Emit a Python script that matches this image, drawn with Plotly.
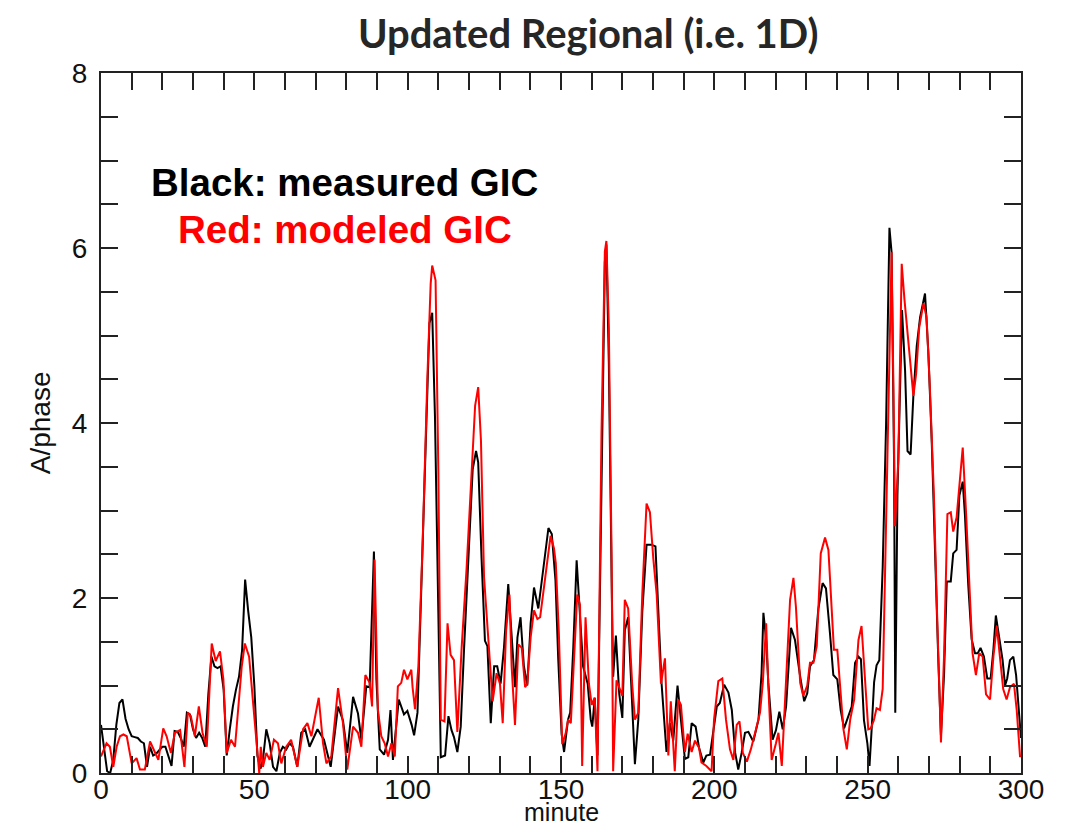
import plotly.graph_objects as go

# measured GIC (black)
meas_t = [0, 1, 2, 3, 4, 5, 6, 7, 8, 9, 10, 11, 12, 13, 14, 15, 16, 17, 18, 19, 20, 21, 22, 23, 24, 25, 26, 27, 28, 29,
          30, 31, 32, 33, 34, 35, 36, 37, 38, 39, 40, 41, 42, 43, 44, 45, 46, 47, 48, 49, 50, 51, 52,
          52.8, 53.9, 55, 56.1, 57.2, 58.3, 59.3, 60.4, 61.5, 62.6, 64, 65.3, 66.6, 68, 69.5, 70.6, 72.7, 74.9,
          77.3, 78.9, 80.3, 82.2, 83.8, 84.9, 86.5, 87.6, 89, 89.8, 90.9, 92.3, 93.6, 94.4, 95.2, 97.1, 98.8,
          99.9, 101.3, 102.1, 103.2, 104.6, 106, 107.1, 108, 108.9, 110, 110.8, 112.2, 113.3, 114.3, 115.1,
          116.2, 117.3, 118.4, 119.8, 121.2, 122.3, 123, 124.1, 125.2, 126, 127.1, 128.2, 129.2, 130.3, 131.4,
          132.8, 134.2, 135, 135.8, 136.8, 137.9, 139, 140.1, 141.2, 142.6, 144, 145.9, 147, 147.7, 148.2,
          149.1, 150.2, 151, 152.3, 153, 154, 155.1, 156.2, 157.2, 158.7, 159.7, 160.2, 161, 161.9, 163.2,
          164.3, 164.8, 165.6, 166.5, 167, 167.9, 169, 170, 170.8, 171.9, 173, 174.1, 175.2, 176.5, 177.9,
          179.5, 180.8, 181.7, 182.8, 184.4, 185.5, 186.6, 188, 189.1, 190.4, 191.5, 192.6, 193.9, 195, 196.4,
          197.4, 198.6, 200.8, 201.8, 203.2, 204.6, 205.7, 206.8, 207.8, 208.9, 210, 211.1, 212.7, 214.4,
          215.4, 216, 216.9, 217.6, 219, 220.1, 221.2, 222.3, 223.4, 225, 226.3, 228, 229.3, 230.3, 231.2,
          232.5, 233.9, 235.3, 236.4, 237.7, 238.8, 240.1, 241.2, 242.3, 243.7, 244.8, 245.9, 247, 247.8,
          248.8, 249.9, 250.6, 251.3, 252.1, 252.9, 253.8, 254.9, 256, 257.1, 257.8, 258.6, 259, 259.7, 260.5,
          261.2, 262.2, 263, 264, 264.9, 266, 267.1, 268.7, 269.8, 270.9, 272, 273, 273.9, 274.9, 275.8,
          277.1, 277.9, 279, 279.9, 281, 281.7, 282.8, 283.9, 285, 285.9, 286.8, 287.9, 289, 290.1, 291,
          291.8, 292.9, 294, 294.8, 295.5, 296.4, 297.5, 298.4, 299.5, 300]
meas_v = [0.55, 0.3, 0.02, 0.0, 0.15, 0.55, 0.8, 0.84, 0.62, 0.5, 0.42, 0.41, 0.4, 0.36, 0.34, 0.07, 0.3, 0.2, 0.22, 0.26,
          0.3, 0.3, 0.2, 0.08, 0.48, 0.47, 0.4, 0.3, 0.69, 0.67, 0.5, 0.4, 0.46, 0.4, 0.3, 0.9, 1.33, 1.22, 1.2, 1.22,
          0.95, 0.2, 0.5, 0.76, 0.95, 1.1, 1.4, 2.21, 1.85, 1.55, 1.0, 0.2, 0.05,
          0.15, 0.5, 0.34, 0.07, 0.02, 0.23, 0.3, 0.27, 0.34, 0.3, 0.07, 0.46, 0.5, 0.3, 0.42, 0.5, 0.38, 0.07,
          0.76, 0.6, 0.23, 0.87, 0.68, 0.38, 0.99, 0.98, 2.53, 1.07, 0.27, 0.21, 0.38, 0.72, 0.15, 0.84, 0.67,
          0.71, 0.55, 0.43, 0.69, 2.24, 3.88, 5.14, 5.26, 4.08, 1.84, 0.18, 0.2, 0.65, 0.49, 0.41,
          0.24, 0.53, 1.43, 2.45, 3.47, 3.68, 3.55, 2.45, 1.51, 1.45, 0.57, 1.22, 1.22, 1.02, 1.43,
          2.16, 1.43, 0.98, 1.55, 1.78, 1.22, 1.0, 1.71, 2.12, 1.88, 2.29, 2.8, 2.73, 2.45, 2.2,
          1.3, 0.45, 0.24, 0.61, 0.69, 1.43, 2.43, 1.84, 1.22, 1.02, 0.61, 0.53, 0.86, 0.2, 3.47,
          5.84, 6.04, 4.69, 2.24, 1.1, 1.57, 0.9, 0.63, 1.63, 1.78, 1.02, 0.1, 0.61, 1.84, 2.61,
          2.61, 2.59, 1.84, 1.02, 0.24, 0.57, 0.37, 1.0, 0.61, 0.16, 0.18, 0.57, 0.53, 0.29, 0.12,
          0.2, 0.21, 0.76, 0.8, 1.01, 0.92, 0.72, 0.23, 0.04, 0.23, 0.46, 0.47, 0.36, 0.61,
          1.14, 1.83, 1.52, 1.03, 0.38, 0.49, 0.7, 0.5, 0.76, 1.66, 1.52, 1.1, 0.82, 0.91, 1.22,
          1.29, 1.87, 2.17, 2.11, 1.6, 1.12, 1.07, 0.72, 0.51, 0.65, 0.76, 1.26, 1.33, 1.3,
          0.6, 0.34, 0.08, 0.5, 1.04, 1.23, 1.29, 2.35, 3.98, 6.23, 5.95, 3.58, 0.69, 3.17, 4.39,
          5.29, 4.6, 3.68, 3.64, 4.31, 4.88, 5.21, 5.48, 4.8, 3.78, 2.35, 1.33, 0.43, 1.12, 2.19,
          2.19, 2.51, 2.55, 3.17, 3.33, 2.96, 2.15, 1.53, 1.37, 1.37, 1.43, 1.33, 1.08, 1.08, 1.41,
          1.8, 1.53, 1.29, 1.0, 1.08, 1.29, 1.33, 1.12, 0.63, 0.4]

# modeled GIC (red)
model_t = [0, 0.8, 1.8, 2.9, 4, 5.1, 6.2, 7.3, 8.4, 10, 11.6, 12.7, 14.3, 16, 17.6, 18.7, 20.3, 21.4, 22.8, 24.1,
           25.8, 27.2, 28.3, 29.3, 30.6, 31.9, 33.1, 34.5, 36.1, 37.4, 38.8, 39.9, 41, 42.4, 43.7, 44.8, 45.9,
           46.9, 48.3, 49.7, 51, 51.6, 52.1, 52.8, 53.9, 55, 56.4, 57.7, 58.8, 60.4, 62, 64, 65.9, 67.3, 68.6,
           71, 72.4, 73.5, 75.1, 77.3, 78.9, 80.3, 82.2, 83.8, 84.9, 86.2, 87.6, 88.4, 89.2, 90.3, 91.4, 92.5,
           93.6, 94.7, 95.8, 96.8, 97.9, 98.8, 99.9, 101.2, 101.6, 102.4, 103.5, 104.9, 106.4, 107.5, 108,
           109.1, 110, 110.8, 112, 113, 114, 115.1, 116.2, 117.6, 119.2, 120.9, 122, 123, 123.9, 124.9, 126,
           127.7, 129, 130.1, 131, 132.1, 133.2, 133.9, 135, 136.1, 137.2, 138.3, 139, 140.1, 141.2, 142.3,
           143.2, 144.8, 146.6, 147.7, 148.3, 149.3, 150.4, 151.5, 152.3, 153.2, 154.3, 155.3, 156.2, 156.9,
           158, 159.1, 160, 161, 161.9, 163.2, 164.3, 164.8, 165.6, 166.5, 167, 168.1, 169, 170, 170.8, 171.9,
           173.2, 174.1, 175.2, 176.5, 177.9, 179, 180.1, 181.2, 182.6, 183.9, 185, 185.8, 187.1, 188.2,
           189.1, 190.4, 191.3, 192.6, 193.7, 195, 195.8, 197.4, 199.1, 199.9, 201.3, 202.6, 203.8, 205.1,
           206.2, 207.3, 208.2, 209.3, 210.6, 211.9, 213.3, 214.9, 215.8, 216.9, 217.6, 218.7, 220.1, 220.9,
           222, 223.4, 224.7, 225.8, 226.6, 228, 229, 230.3, 231.2, 232.3, 233.4, 234.7, 236.1, 237.2, 238.3,
           239, 240.1, 241.2, 242.1, 243.2, 244.3, 245.6, 247, 248, 249.2, 250.2, 251, 252, 252.9, 254, 254.9,
           256, 257.1, 257.8, 258.4, 258.9, 260, 261.1, 262, 263.3, 264, 264.9, 265.8, 266.8, 268.2, 269.2,
           270.3, 271.6, 272.7, 273.9, 274.9, 276, 277.1, 277.9, 279, 280.1, 281, 282.1, 283.2, 284.2, 285.3,
           286.4, 287.5, 288.6, 289.9, 291, 292.1, 293.2, 294.2, 295.3, 296.4, 297.7, 298.6, 299.7]
model_v = [0.19, 0.25, 0.34, 0.3, 0.07, 0.3, 0.42, 0.44, 0.42, 0.11, 0.17, 0.04, 0.04, 0.36, 0.23, 0.15, 0.51, 0.42,
           0.23, 0.46, 0.49, 0.07, 0.69, 0.65, 0.42, 0.76, 0.46, 0.3, 1.48, 1.28, 1.39, 1.07, 0.23, 0.38, 0.3,
           0.72, 1.22, 1.48, 1.33, 0.76, 0.19, 0.0, 0.3, 0.07, 0.23, 0.15, 0.38, 0.34, 0.11, 0.3, 0.38, 0.07, 0.5,
           0.57, 0.42, 0.86, 0.34, 0.11, 0.19, 0.97, 0.57, 0.04, 0.53, 0.46, 0.3, 1.12, 1.03, 0.76, 2.44, 0.72,
           0.42, 0.34, 0.19, 0.34, 0.19, 0.99, 1.03, 1.18, 1.07, 1.18, 0.98, 0.73, 1.22, 2.65, 4.49, 5.59, 5.8,
           5.63, 3.47, 0.61, 0.59, 1.71, 1.35, 1.29, 0.47, 1.43, 2.33, 3.47, 4.2, 4.41, 3.8, 2.24, 1.63,
           0.82, 1.14, 1.02, 0.57, 1.63, 2.04, 1.22, 0.55, 1.47, 1.43, 0.98, 1.02, 1.55, 1.86, 1.76,
           1.78, 2.24, 2.71, 2.57, 2.4, 1.6, 0.33, 0.45, 0.61, 0.57, 1.43, 2.04, 1.92, 0.08,
           1.78, 1.02, 0.78, 0.86, 0.02, 3.88, 5.96, 6.08, 5.1, 2.45, 0.02, 1.06, 0.98, 0.88, 1.98, 1.88,
           1.02, 0.61, 0.69, 2.04, 3.08, 2.98, 2.45, 2.04, 1.02, 1.31, 0.2, 0.82, 0.02, 0.84,
           0.78, 0.24, 0.45, 0.24, 0.37, 0.29, 0.12, 0.08, 0.02, 0.61, 1.05, 1.08, 0.61, 0.27,
           0.15, 0.55, 0.59, 0.23, 0.13, 0.27, 0.46, 0.69, 1.03, 1.71, 1.0, 0.15, 0.34, 0.46,
           0.08, 1.03, 1.98, 2.23, 1.9, 1.03, 0.88, 1.0, 1.26, 1.26, 1.45, 2.51, 2.69, 2.55, 1.9,
           1.41, 1.41, 0.95, 0.5, 0.27, 0.61, 0.84, 1.52, 1.68, 1.0, 0.5, 0.51, 0.6, 0.74, 0.72, 0.96,
           2.76, 4.8, 5.95, 4.39, 2.82, 3.58, 5.82, 5.41, 4.92, 4.72, 4.31, 4.56, 5.09, 5.37, 5.21,
           4.39, 3.17, 1.74, 0.35, 1.33, 2.96, 2.98, 2.76, 2.92, 3.41, 3.72, 2.96, 2.15, 1.37, 1.12,
           1.37, 1.33, 0.9, 0.84, 1.33, 1.68, 1.33, 0.96, 0.84, 0.98, 1.02, 0.72, 0.18]

title_text = "Updated Regional (i.e. 1D)"
legend_black = "Black: measured GIC"
legend_red = "Red: modeled GIC"
x_label = "minute"
y_label = "A/phase"
x_ticks = [0, 50, 100, 150, 200, 250, 300]
y_ticks = [0, 2, 4, 6, 8]

fig = go.Figure()
fig.add_trace(go.Scatter(x=meas_t, y=meas_v, mode="lines", line=dict(color="black", width=2), showlegend=False))
fig.add_trace(go.Scatter(x=model_t, y=model_v, mode="lines", line=dict(color="#ff0000", width=2), showlegend=False))

axis_font = dict(family="Liberation Sans, Arial, sans-serif", size=28, color="#111111")
tick_style = dict(ticks="inside", ticklen=17, tickwidth=1.5, tickcolor="#222222")

fig.update_layout(
    width=1053, height=820,
    margin=dict(l=93, r=40, t=65, b=55),
    paper_bgcolor="white", plot_bgcolor="white",
    title=dict(text="<b>" + title_text + "</b>", x=0.551, xanchor="center", y=0.968, yanchor="middle",
               font=dict(family="Lato, sans-serif", size=40, color="#262626")),
    xaxis=dict(range=[0, 300], tickvals=x_ticks, **tick_style, automargin=False,
               showline=True, linecolor="#222222", linewidth=2, mirror="allticks", showgrid=False, zeroline=False,
               minor=dict(dtick=10, ticks="inside", ticklen=17, tickwidth=1.5, tickcolor="#222222", showgrid=False),
               tickfont=axis_font, ticklabelstandoff=-10),
    yaxis=dict(range=[0, 8], tickvals=y_ticks, **tick_style, automargin=False,
               showline=True, linecolor="#222222", linewidth=2, mirror="allticks", showgrid=False, zeroline=False,
               minor=dict(dtick=0.5, ticks="inside", ticklen=17, tickwidth=1.5, tickcolor="#222222", showgrid=False),
               tickfont=axis_font, ticklabelstandoff=6),
    annotations=[
        dict(text=x_label, x=0.5, y=-0.0786, xref="paper", yref="paper",
             xanchor="center", yanchor="bottom", showarrow=False,
             font=dict(family="Liberation Sans, Arial, sans-serif", size=25, color="#111111")),
        dict(text=y_label, x=-0.066, y=0.5, xref="paper", yref="paper", textangle=-90,
             xanchor="center", yanchor="middle", showarrow=False, font=axis_font),
        dict(text="<b>" + legend_black + "</b>", x=0.265, y=0.843, xref="paper", yref="paper",
             xanchor="center", yanchor="middle", showarrow=False,
             font=dict(family="Liberation Sans, Arial, sans-serif", size=38.5, color="black")),
        dict(text="<b>" + legend_red + "</b>", x=0.265, y=0.776, xref="paper", yref="paper",
             xanchor="center", yanchor="middle", showarrow=False,
             font=dict(family="Liberation Sans, Arial, sans-serif", size=38.5, color="#ff0000")),
    ],
)

fig.write_html("out.html")
